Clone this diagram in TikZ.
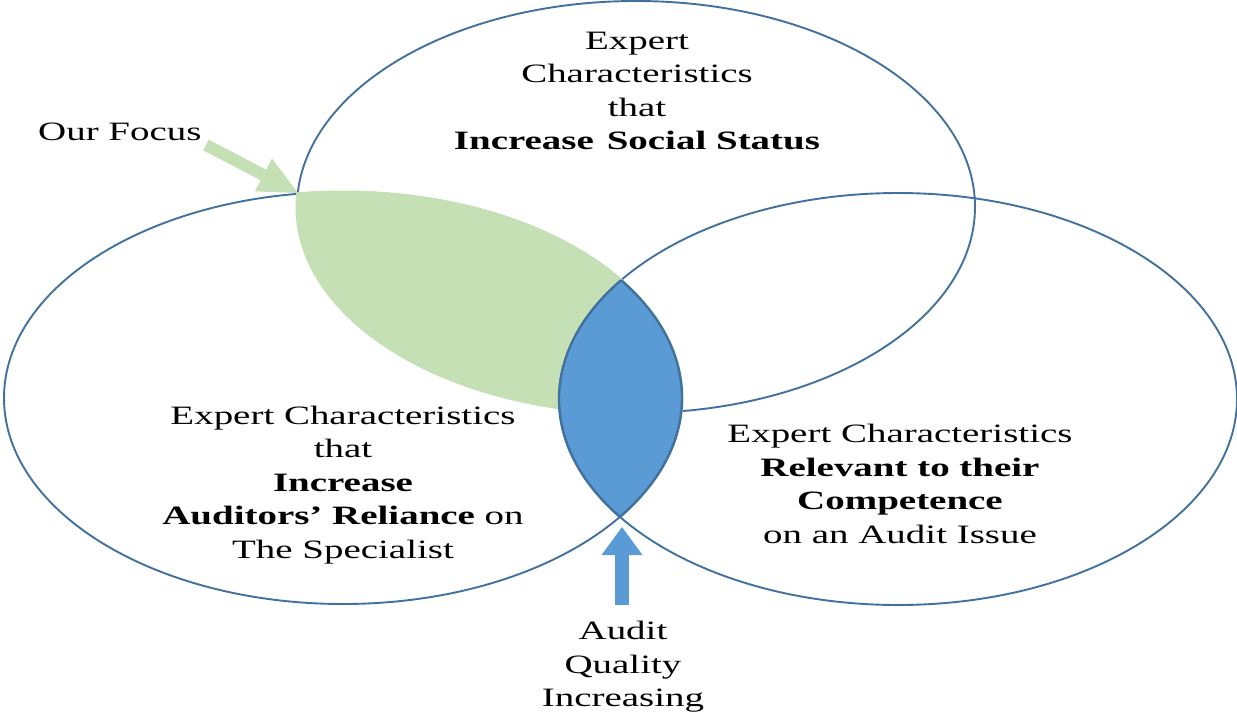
\documentclass[tikz,border=0pt]{standalone}
\usepackage{fontspec}
\setmainfont{Liberation Serif}[FakeStretch=1.47]
\usepackage{xcolor}
\usepackage{tikz}
\usetikzlibrary{arrows.meta}
\definecolor{vennline}{RGB}{65,113,156}
\definecolor{focusgreen}{RGB}{197,224,180}
\definecolor{overlapblue}{RGB}{91,155,213}
\newcommand{\vennrx}{339pt}
\newcommand{\vennry}{206pt}
\tikzset{
  venn/.style={draw=vennline,line width=1.9pt},
  caption/.style={align=center,inner sep=0pt,font=\fontsize{26.5}{33.5}\selectfont},
  lensedge/.style={draw=vennline,line width=2.4pt},
  focusarrow/.style={
    draw=focusgreen,line width=12pt,
    -{Triangle[length=39pt,width=37pt,line width=0pt]}
  },
  qualityarrow/.style={
    draw=overlapblue,line width=14pt,
    -{Triangle[length=28pt,width=41pt,line width=0pt]}
  }
}
\begin{document}
\begin{tikzpicture}[x=1pt,y=-1pt]
  \useasboundingbox (0,0) rectangle (1237,713);

  % centres of the three sets
  \coordinate (status) at (636,207);
  \coordinate (reliance) at (343,398);
  \coordinate (competence) at (898,399);

  \draw[venn] (status) ellipse [x radius=\vennrx, y radius=\vennry];
  \draw[venn] (reliance) ellipse [x radius=\vennrx, y radius=\vennry];
  \draw[venn] (competence) ellipse [x radius=\vennrx, y radius=\vennry];

  % our focus: status and reliance
  \begin{scope}
    \clip (status) ellipse [x radius=340.5pt, y radius=207.5pt];
    \fill[focusgreen] (reliance) ellipse [x radius=340.5pt, y radius=207.5pt];
  \end{scope}

  % reliance and competence
  \begin{scope}
    \clip (reliance) ellipse [x radius=\vennrx, y radius=\vennry];
    \fill[overlapblue] (competence) ellipse [x radius=\vennrx, y radius=\vennry];
    \draw[lensedge] (competence) ellipse [x radius=\vennrx, y radius=\vennry];
  \end{scope}
  \begin{scope}
    \clip (competence) ellipse [x radius=\vennrx, y radius=\vennry];
    \draw[lensedge] (reliance) ellipse [x radius=\vennrx, y radius=\vennry];
  \end{scope}

  \node[caption] (statustext) at (637,91)
    {Expert\\Characteristics\\that\\\textbf{Increase\hspace{0.12em} Social Status}};
  \node[caption] (reliancetext) at (343,485)
    {Expert Characteristics\\that\\\textbf{Increase}\\\textbf{Auditors’ Reliance} on\\The Specialist};
  \node[caption] (competencetext) at (900,484)
    {Expert Characteristics\\\textbf{Relevant to their}\\\textbf{Competence}\\on an Audit Issue};
  \node[caption,anchor=west] (ourfocus) at (38,132) {Our Focus};
  \node[caption] (quality) at (623,667) {Audit\\Quality\\Increasing};

  \coordinate (focustail) at (206,145);
  \coordinate (focustip) at (298,193);
  \coordinate (qualitytail) at (622,605);
  \coordinate (qualitytip) at (622,527);

  \draw[focusarrow] (focustail) -- (focustip);
  \draw[qualityarrow] (qualitytail) -- (qualitytip);
\end{tikzpicture}
\end{document}
